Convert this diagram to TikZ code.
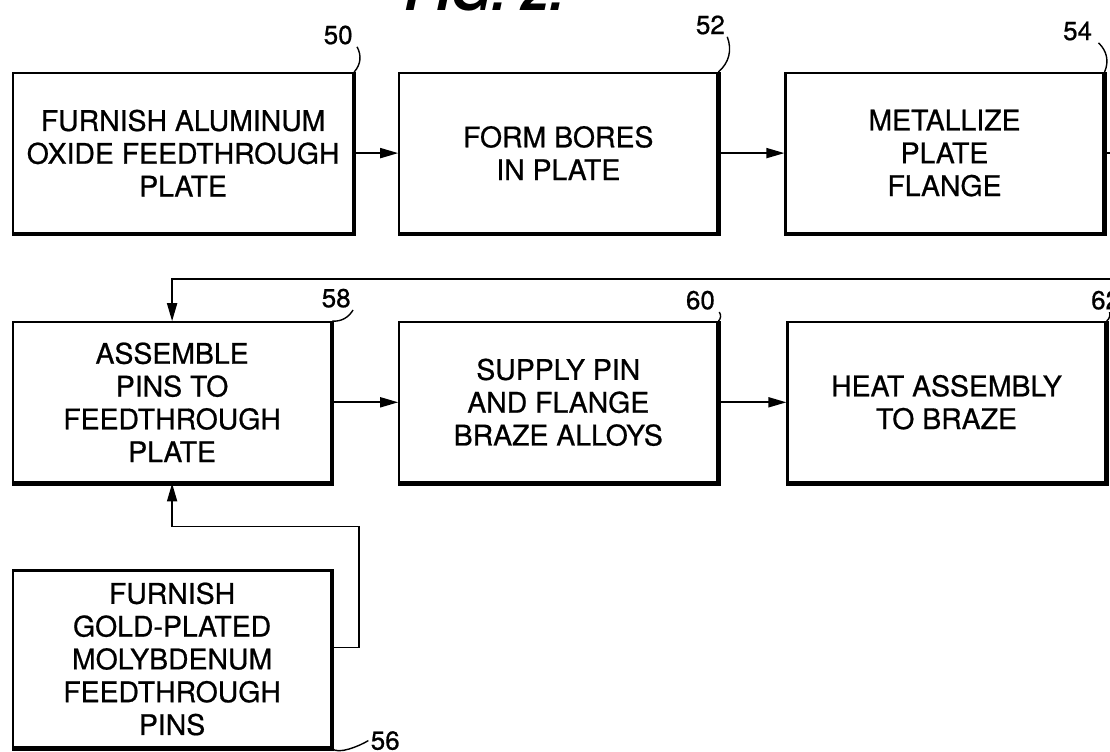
\documentclass[tikz,border=0pt]{standalone}
\usepackage{fontspec}
\setmainfont{TeX Gyre Heros}
\newfontfamily\boxfont{TeX Gyre Heros}[FakeBold=0.7]
\usetikzlibrary{arrows.meta,positioning}
\tikzset{
  stepbox/.style={draw, line width=1.1pt, align=center, minimum width=159pt, minimum height=80pt, inner sep=3pt, font=\boxfont\fontsize{14.2}{16.4}\selectfont},
  shadowedge/.style={line width=2.2pt},
  flow/.style={-{Triangle[length=9pt,width=5pt]}, line width=0.9pt},
  refno/.style={font=\boxfont\fontsize{13}{13}\selectfont, inner sep=1pt},
  lead/.style={line width=0.7pt},
}

\begin{document}
\begin{tikzpicture}
\useasboundingbox (0,0) rectangle (555pt,-375.5pt);
\node[font=\bfseries\itshape\fontsize{26}{26}\selectfont, anchor=base] (fig) at (242pt,-5pt) {FIG. 2.};
% top row
\node[stepbox, minimum width=170pt, anchor=north west] (b50) at (6pt,-36pt) {FURNISH ALUMINUM\\OXIDE FEEDTHROUGH\\PLATE};
\node[stepbox, right=22pt of b50] (b52) {FORM BORES\\IN PLATE};
\node[stepbox, right=33pt of b52] (b54) {METALLIZE\\PLATE\\FLANGE};
% second row
\node[stepbox, below=43.5pt of b50.south west, anchor=north west] (b58) {ASSEMBLE\\PINS TO\\FEEDTHROUGH\\PLATE};
\node[stepbox, right=33pt of b58] (b60) {SUPPLY PIN\\AND FLANGE\\BRAZE ALLOYS};
\node[stepbox, right=34pt of b60] (b62) {HEAT ASSEMBLY\\TO BRAZE};
\node[stepbox, minimum height=88.5pt, below=43pt of b58] (b56) {FURNISH\\GOLD-PLATED\\MOLYBDENUM\\FEEDTHROUGH\\PINS};
\foreach \b in {b50,b52,b54,b58,b60,b62,b56}
  \draw[shadowedge] (\b.north east) -- (\b.south east) -- (\b.south west);
% flow
\draw[flow] (b50) -- (b52);
\draw[flow] (b52) -- (b54);
\coordinate (back) at ([yshift=21pt]b58.north);
\draw[flow] (b54.east) -- ++(15pt,0) |- (back) -- (b58.north);
\draw[flow] (b58) -- (b60);
\draw[flow] (b60) -- (b62);
\coordinate (jog) at ([shift={(13.5pt,5.75pt)}]b56.east);
\draw[flow] ([yshift=5.75pt]b56.east) -- (jog) |- ([yshift=-21.5pt]b58.south) -- (b58.south);
% reference numerals
\node[refno] (l50) at ([shift={(-8pt,18.5pt)}]b50.north east) {50};
\node[refno] (l52) at ([shift={(-4pt,23.5pt)}]b52.north east) {52};
\node[refno] (l54) at ([shift={(-13.5pt,20.5pt)}]b54.north east) {54};
\node[refno] (l58) at ([shift={(2pt,11.5pt)}]b58.north east) {58};
\node[refno] (l60) at ([shift={(-9pt,10.5pt)}]b60.north east) {60};
\node[refno] (l62) at ([shift={(-0.5pt,10.5pt)}]b62.north east) {62};
\node[refno] (l56) at ([shift={(26.5pt,4pt)}]b56.south east) {56};
\draw[lead] (b50.north east) to[bend right=35] ([xshift=1pt]l50.south east);
\draw[lead] (b52.north east) to[bend right=35] (l52.south east);
\draw[lead] (b54.north east) to[bend right=35] ([xshift=2pt]l54.south east);
\draw[lead] (b58.north east) to[bend right=30] (l58.south east);
\draw[lead] (b60.north east) to[bend right=40] ([xshift=1pt]l60.south east);
\draw[lead] (b62.north east) to[bend right=30] ([xshift=2pt]l62.south);
\draw[lead] (b56.south east) .. controls +(3pt,-3pt) and +(-5pt,-3pt) .. (l56.west);
\end{tikzpicture}
\end{document}
